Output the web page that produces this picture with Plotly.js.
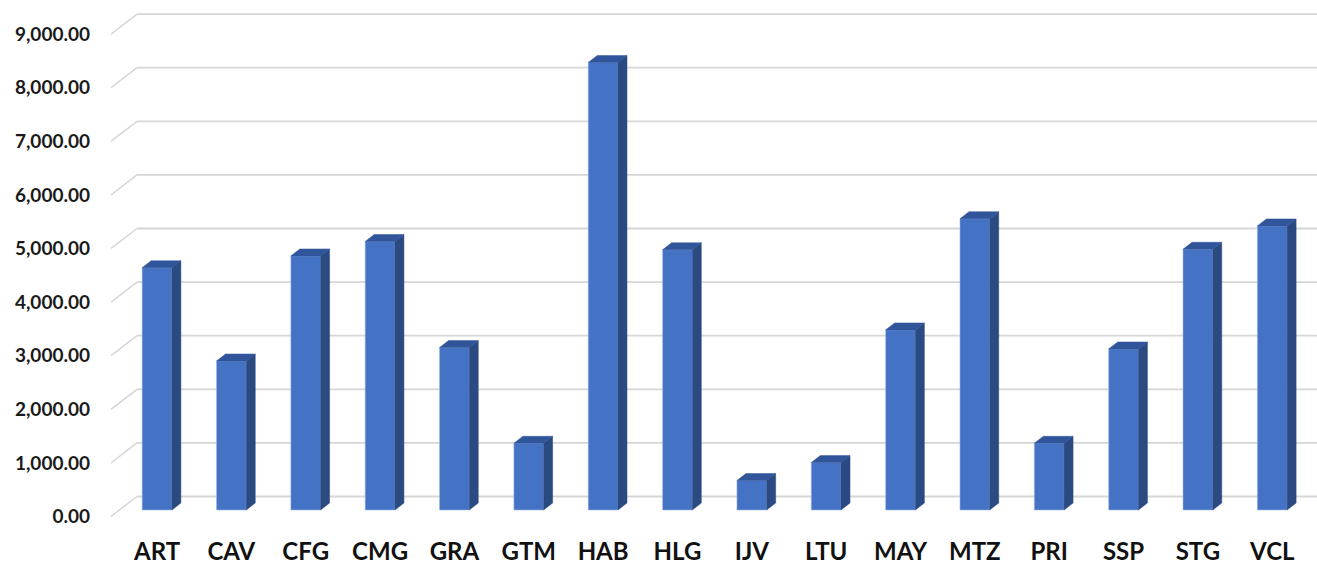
<!DOCTYPE html>
<html>
<head>
<meta charset="utf-8">
<script src="https://cdn.plot.ly/plotly-3.0.1.min.js"></script>
<style>
  html, body { margin: 0; padding: 0; background: #ffffff; }
  #chart { width: 1317px; height: 566px; }
</style>
</head>
<body>
<div id="chart"></div>
<script>
// Units per category
const categories = ['ART', 'CAV', 'CFG', 'CMG', 'GRA', 'GTM', 'HAB', 'HLG',
                    'IJV', 'LTU', 'MAY', 'MTZ', 'PRI', 'SSP', 'STG', 'VCL'];
const values = [4520, 2780, 4740, 5010, 3030, 1245, 8350, 4855,
                550, 885, 3360, 5435, 1245, 3005, 4865, 5300];
const yTicks = [0, 1000, 2000, 3000, 4000, 5000, 6000, 7000, 8000, 9000];

// Pseudo-3D geometry (in axis units)
const barW = 0.40;        // front face width (category units)
const depthX = 0.121;     // horizontal depth of the bar sides
const depthY = 130;       // vertical depth of the bar sides (value units)
const wallY = 252;        // back wall lift relative to bar front
const floorDrop = 121;    // front floor edge drop relative to bar front
const xMin = -0.619, xMax = 15.602;
const wallX = -0.269;     // where the back wall starts
const yMin = -298.5, yMax = 9421.6;

const idx = categories.map((_, i) => i);

// Side and top faces built from the same values as the front bars
const sideX = [], sideY = [], capX = [], capY = [];
idx.forEach(i => {
  const v = values[i];
  const r = i + barW / 2, l = i - barW / 2;
  sideX.push(r, r + depthX, r + depthX, r, r, null);
  sideY.push(0, depthY, v + depthY, v, 0, null);
  capX.push(l, l + depthX, r + depthX, r, l, null);
  capY.push(v, v + depthY, v + depthY, v, v, null);
});

const frontFaces = {
  type: 'bar', x: idx, y: values, width: barW,
  marker: { color: '#4472C4', line: { color: 'rgba(160,185,230,0.7)', width: 0.8 } },
  hoverinfo: 'skip', showlegend: false
};
const sideFaces = {
  type: 'scatter', mode: 'lines', x: sideX, y: sideY, fill: 'toself',
  fillcolor: '#2B4A82', line: { color: '#2B4A82', width: 0.5 },
  hoverinfo: 'skip', showlegend: false
};
const capFaces = {
  type: 'scatter', mode: 'lines', x: capX, y: capY, fill: 'toself',
  fillcolor: '#30559A', line: { color: '#30559A', width: 0.5 },
  hoverinfo: 'skip', showlegend: false
};

// Back wall gridlines with their diagonal side wall segments
const gridShapes = [];
yTicks.forEach(v => {
  gridShapes.push({
    type: 'line', xref: 'x', yref: 'y', layer: 'below',
    x0: wallX, x1: xMax, y0: v + wallY, y1: v + wallY,
    line: { color: '#d6d6d6', width: 1.8 }
  });
  gridShapes.push({
    type: 'line', xref: 'x', yref: 'y', layer: 'below',
    x0: xMin, x1: wallX, y0: v - floorDrop, y1: v + wallY,
    line: { color: '#d6d6d6', width: 1.5 }
  });
});

const tickText = yTicks.map(v => v.toLocaleString('en-US', { minimumFractionDigits: 2, maximumFractionDigits: 2 }));

const layout = {
  width: 1317, height: 566,
  margin: { l: 111, r: 0, t: 5, b: 40, pad: 0 },
  paper_bgcolor: '#ffffff', plot_bgcolor: 'rgba(0,0,0,0)',
  showlegend: false,
  xaxis: {
    range: [xMin, xMax], showgrid: false, zeroline: false, showline: false,
    tickmode: 'array', tickvals: idx, ticktext: categories, ticks: '',
    ticklabelstandoff: 9,
    tickfont: { family: 'Liberation Sans Narrow, Lato, sans-serif', size: 24, weight: 700, color: '#111111' },
    fixedrange: true
  },
  yaxis: {
    range: [yMin, yMax], showgrid: false, zeroline: false, showline: false,
    tickmode: 'array', tickvals: yTicks.map(v => v - floorDrop), ticktext: tickText, ticks: '',
    ticklabelstandoff: 20,
    tickfont: { family: 'Lato, sans-serif', size: 19, weight: 700, color: '#1a1a1a' },
    fixedrange: true
  },
  shapes: gridShapes,
  bargap: 0
};

Plotly.newPlot('chart', [frontFaces, sideFaces, capFaces], layout, { displayModeBar: false, staticPlot: true });
</script>
</body>
</html>
